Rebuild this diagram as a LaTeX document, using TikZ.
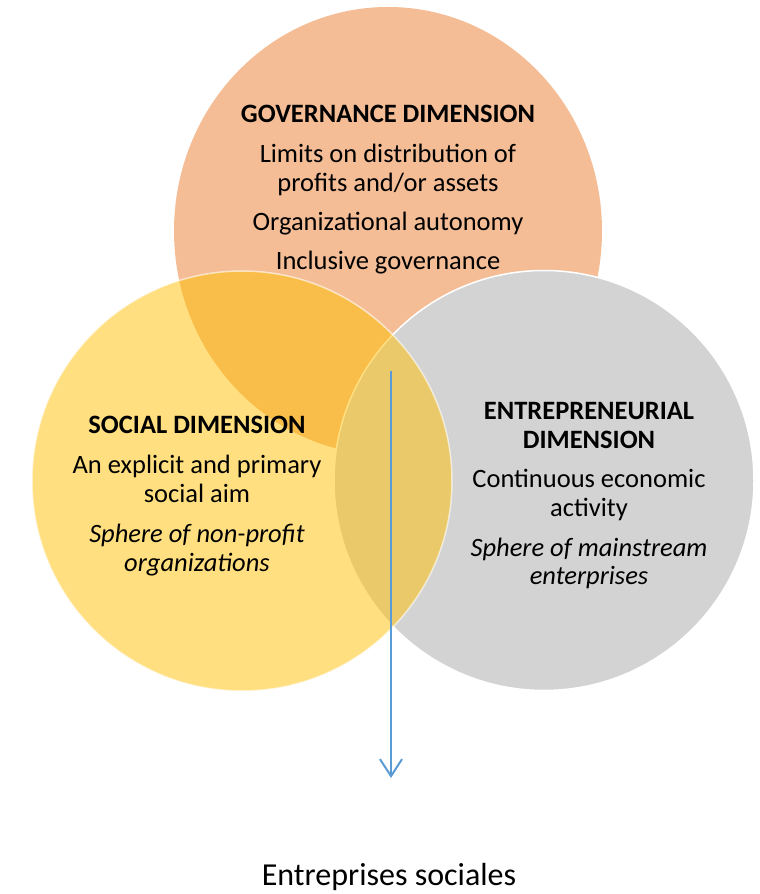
\documentclass[tikz,border=0pt]{standalone}
\usepackage{fontspec}
\setmainfont{Carlito}
\usetikzlibrary{arrows.meta}

\begin{document}
\begin{tikzpicture}[x=1pt,y=1pt,
	lbl/.style={text=drawColor,anchor=base,inner sep=0pt,outer sep=0pt,font=\fontsize{26.5}{31}\selectfont},
	hdr/.style={lbl,font=\fontsize{26.5}{31}\selectfont\bfseries},
	sph/.style={lbl,font=\fontsize{26.5}{31}\selectfont\itshape}]
\definecolor{fillColor}{RGB}{255,255,255}
\definecolor{drawColor}{RGB}{0,0,0}
\definecolor{govColor}{RGB}{244,189,150}
\definecolor{entColor}{RGB}{211,211,211}
\definecolor{socColor}{RGB}{255,192,0}
\definecolor{arrowColor}{RGB}{91,155,213}
\path[use as bounding box,fill=fillColor] (0,0) rectangle (760,894);

\path[fill=govColor] (388,663) ellipse [x radius=214, y radius=224];

\path[fill=entColor,draw=white,line width=1.5pt] (544,413.5) circle [radius=210];

\path[fill=socColor,fill opacity=0.5,draw=white,draw opacity=0.6,line width=1.5pt] (242,413) circle [radius=210];

\coordinate (top) at (391,523);
\coordinate (tip) at (391,116);
\draw[arrowColor,line width=2pt,-{Straight Barb[length=17pt,width=22pt]}] (top) -- (tip);

\node[hdr] (gov0) at (388,771) {GOVERNANCE DIMENSION};

\node[lbl] (gov1) at (388,731) {Limits on distribution of};

\node[lbl] (gov2) at (388,702) {profits and/or assets};

\node[lbl] (gov3) at (388,663) {Organizational autonomy};

\node[lbl] (gov4) at (388,624) {Inclusive governance};

\node[hdr] (soc0) at (197,460) {SOCIAL DIMENSION};

\node[lbl] (soc1) at (197,420) {An explicit and primary};

\node[lbl] (soc2) at (197,391) {social aim};

\node[sph] (soc3) at (197,351) {Sphere of non-profit};

\node[sph] (soc4) at (197,322) {organizations};

\node[hdr] (ent0) at (589,474) {ENTREPRENEURIAL};

\node[hdr] (ent1) at (589,445) {DIMENSION};

\node[lbl] (ent2) at (589,406) {Continuous economic};

\node[lbl] (ent3) at (589,377) {activity};

\node[sph] (ent4) at (589,337) {Sphere of mainstream};

\node[sph] (ent5) at (589,309) {enterprises};

\node[lbl,font=\fontsize{32}{38}\selectfont] (se) at (389,9) {Entreprises sociales};
\end{tikzpicture}
\end{document}
